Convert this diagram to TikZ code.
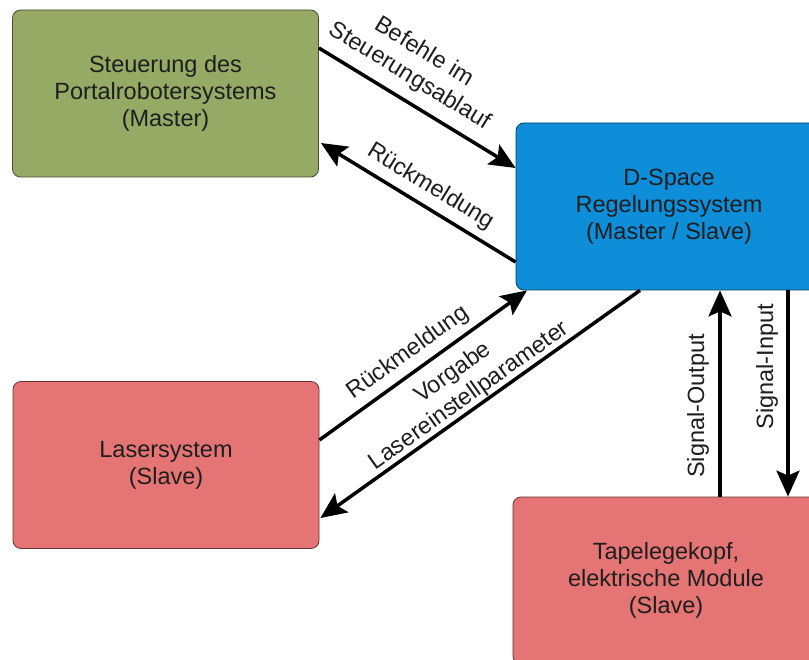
\documentclass[tikz,border=0pt]{standalone}
\usepackage{fontspec}
\setmainfont{Liberation Sans}
\usetikzlibrary{arrows.meta,calc}
\definecolor{gfill}{RGB}{150,170,102}
\definecolor{bfill}{RGB}{14,142,216}
\definecolor{rfill}{RGB}{229,116,116}
\definecolor{txt}{RGB}{30,30,30}
\begin{document}
\begin{tikzpicture}[x=1pt,y=-1pt,
 box/.style={rounded corners=8pt, minimum width=306pt, minimum height=167pt, align=center,
   font=\fontsize{23.5}{27}\selectfont, text=txt, line width=0.8pt},
 conn/.style={line width=3.5pt, -{Stealth[length=26pt,width=23pt,inset=5pt]}},
 lab/.style={font=\fontsize{23.5}{28}\selectfont, align=center, sloped, anchor=south, inner sep=0pt, text=txt},
 vlab/.style={font=\fontsize{23.5}{28}\selectfont, rotate=90, anchor=south, inner sep=0pt, text=txt}]
\clip (0,0) rectangle (809,660);
\fill[white] (0,0) rectangle (809,660);
\node[box, fill=gfill, draw=gfill!45!black] (green) at (165.5,93.5) {Steuerung des\\Portalrobotersystems\\(Master)};
\node[box, fill=bfill, draw=bfill!45!black] (blue) at (669,206.5) {D-Space\\Regelungssystem\\(Master / Slave)};
\node[box, fill=rfill, draw=rfill!45!black] (laser) at (166,465) {Lasersystem\\(Slave)};
\node[box, fill=rfill, draw=rfill!45!black] (tape) at (666,580.5) {Tapelegekopf,\\elektrische Module\\(Slave)};
% Befehle
\draw[conn] ([yshift=45.5pt]green.east) -- ([yshift=38.5pt]blue.west);
\path ([yshift=45.5pt]green.east) -- node[lab, pos=0.40, outer sep=12pt] {Befehle im\\Steuerungsablauf} ([yshift=38.5pt]blue.west);
% Rueckmeldung oben
\draw[conn] ([yshift=-55.5pt]blue.west) -- ([xshift=2pt,yshift=-49.5pt]green.east);
\path ([xshift=2pt,yshift=-49.5pt]green.east) -- node[lab, pos=0.51, outer sep=9pt] {Rückmeldung} ([yshift=-55.5pt]blue.west);
% Rueckmeldung unten
\draw[conn] ([yshift=25pt]laser.east) -- ([xshift=-142pt]blue.south);
\path ([yshift=25pt]laser.east) -- node[lab, pos=0.48, outer sep=8pt] {Rückmeldung} ([xshift=-142pt]blue.south);
% Vorgabe
\draw[conn] ([xshift=-29pt]blue.south) -- ([xshift=1pt,yshift=-53pt]laser.east);
\path ([xshift=1pt,yshift=-53pt]laser.east) -- node[lab, pos=0.49, outer sep=2pt] {Vorgabe\\Lasereinstellparameter} ([xshift=-29pt]blue.south);
% Signal-Output
\draw[conn] ([xshift=54pt]tape.north) -- ([xshift=54pt]tape.north |- blue.south);
\path ([xshift=54pt]tape.north) -- node[vlab, pos=0.44, outer sep=11pt] {Signal-Output} ([xshift=54pt]tape.north |- blue.south);
% Signal-Input
\draw[conn] ([xshift=119pt]blue.south) -- ([xshift=119pt]blue.south |- tape.north);
\path ([xshift=119pt]blue.south) -- node[vlab, pos=0.37, outer sep=10pt] {Signal-Input} ([xshift=119pt]blue.south |- tape.north);
\end{tikzpicture}
\end{document}
